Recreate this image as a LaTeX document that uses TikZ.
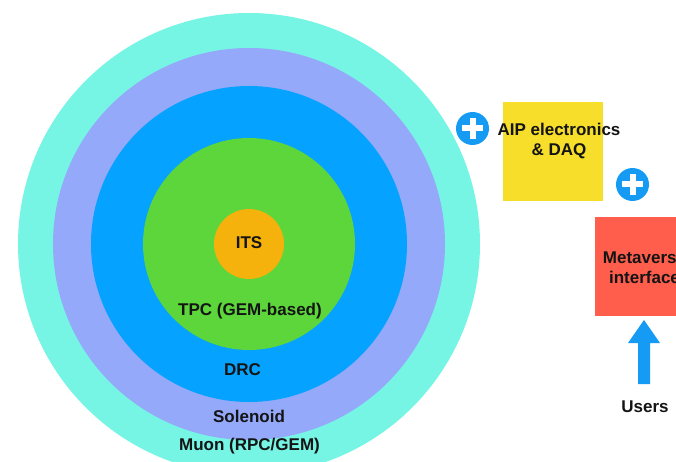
\documentclass[tikz,border=0pt]{standalone}
\usepackage{fontspec}
\setmainfont{Liberation Sans}
\usetikzlibrary{shapes.arrows}
\definecolor{muonc}{RGB}{118,245,228}
\definecolor{solc}{RGB}{148,169,250}
\definecolor{drcc}{RGB}{5,162,255}
\definecolor{tpcc}{RGB}{92,214,58}
\definecolor{itsc}{RGB}{245,178,12}
\definecolor{aipc}{RGB}{246,222,42}
\definecolor{metac}{RGB}{255,94,77}
\definecolor{plusc}{RGB}{22,155,245}
\definecolor{txtc}{RGB}{20,20,20}
\begin{document}
\begin{tikzpicture}[x=1pt,y=-1pt,
  lbl/.style={font=\bfseries\fontsize{17}{20}\selectfont, text=txtc, inner sep=0pt, align=center},
  layer/.style={circle, draw=none, inner sep=0pt, minimum size=#1},
  boxnode/.style={draw=none, minimum width=100pt, minimum height=99pt, inner sep=0pt},
  plusicon/.style={circle, fill=plusc, minimum size=33pt, inner sep=0pt}]
\useasboundingbox (0,0) rectangle (676,462);
% layers
\node[layer=462pt, fill=muonc] (muon) at (249,244) {};
\node[layer=392pt, fill=solc] (sol) at (249,244) {};
\node[layer=316pt, fill=drcc] (drc) at (249,244) {};
\node[layer=212pt, fill=tpcc] (tpc) at (249,244) {};
\node[layer=70pt, fill=itsc] (its) at (249,244) {};
% labels
\node[lbl] (itsl) at (249,243) {ITS};
\node[lbl] (tpcl) at (250,311) {TPC (GEM-based)};
\node[lbl] (drcl) at (242.5,370) {DRC};
\node[lbl] (soll) at (249,416) {Solenoid};
\node[lbl] (muonl) at (249.5,446.5) {Muon (RPC/GEM)};
% boxes
\node[boxnode, fill=aipc] (aip) at (553,151.5) {};
\node[boxnode, fill=metac] (meta) at (644.5,266.5) {};
\node[lbl] (aipl) at (559,141.5) {AIP electronics\\\&\ DAQ};
\node[lbl] (metal) at (644.5,267.5) {Metaverse\\interface};
% plus icons
\node[plusicon] (plus1) at (472.5,128.5) {};
\draw[white, line width=6pt] ([xshift=-10.5pt]plus1.center) -- ([xshift=10.5pt]plus1.center);
\draw[white, line width=6pt] ([yshift=-10.5pt]plus1.center) -- ([yshift=10.5pt]plus1.center);
\node[plusicon] (plus2) at (632.5,184.5) {};
\draw[white, line width=6pt] ([xshift=-10.5pt]plus2.center) -- ([xshift=10.5pt]plus2.center);
\draw[white, line width=6pt] ([yshift=-10.5pt]plus2.center) -- ([yshift=10.5pt]plus2.center);
% users arrow
\node[lbl] (users) at (645,406.5) {Users};
\coordinate (abot) at (644,384);
\coordinate (atip) at (644,320);
\fill[plusc] (abot) ++(-6,0) -- ++(0,-41) -- ++(-10,0) -- (atip) -- ++(16,23) -- ++(-10,0) -- ++(0,41) -- cycle;
\end{tikzpicture}
\end{document}
